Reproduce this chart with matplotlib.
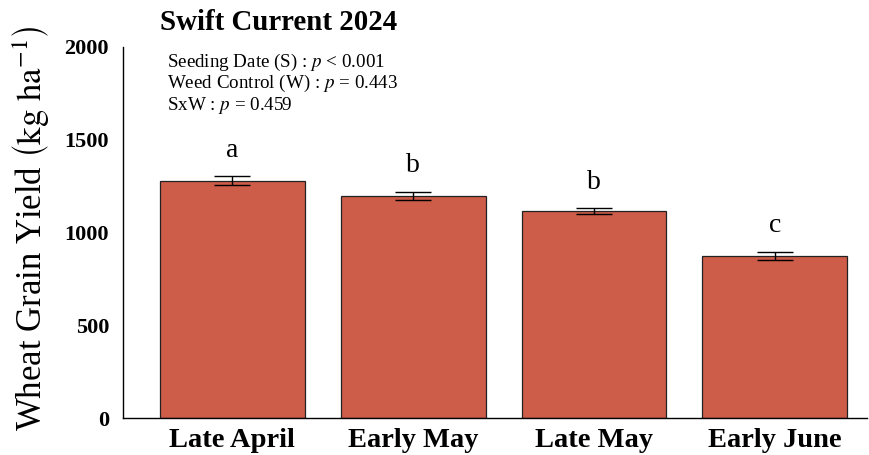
import matplotlib
matplotlib.use("Agg")
import matplotlib.pyplot as plt

# Seeding date means and standard errors (kg/ha)
dates = ["Late April", "Early May", "Late May", "Early June"]
yield_mean = [1280, 1196, 1116, 874]
yield_se = [22, 23, 16, 23]
letters = ["a", "b", "b", "c"]
stats_lines = [
    r"Seeding Date (S) : $p$ < 0.001",
    r"Weed Control (W) : $p$ = 0.443",
    r"SxW : $p$ = 0.459",
]
yticks = [0, 500, 1000, 1500, 2000]

plt.rcParams["font.family"] = ["Liberation Serif", "DejaVu Serif"]
plt.rcParams["mathtext.fontset"] = "stix"

fig = plt.figure(figsize=(8.69, 4.55), dpi=100)
ax = fig.add_axes([123 / 869, 37 / 455, 744 / 869, 371 / 455])

x = range(len(dates))
ax.bar(x, yield_mean, width=0.8, color="#CD5C48", edgecolor="#222222", linewidth=0.9)
ax.errorbar(x, yield_mean, yerr=yield_se, fmt="none", ecolor="black",
            elinewidth=1.0, capsize=13, capthick=1.0)

# significance letters above the error bars
for i, (m, s, lab) in enumerate(zip(yield_mean, yield_se, letters)):
    ax.annotate(lab, (i, m + s), xytext=(0, 14), textcoords="offset points",
                ha="center", va="baseline", fontsize=20)

ax.set_xlim(-0.605, 3.51)
ax.set_ylim(0, 2000)
ax.set_xticks(list(x))
ax.set_xticklabels(dates, fontsize=20.5, fontweight="bold")
ax.set_yticks(yticks)
ax.set_yticklabels([str(t) for t in yticks], fontsize=16, fontweight="bold")
ax.tick_params(axis="both", length=0)
ax.tick_params(axis="y", pad=10)
ax.tick_params(axis="x", pad=7)
for side in ["top", "right"]:
    ax.spines[side].set_visible(False)
for side in ["left", "bottom"]:
    ax.spines[side].set_linewidth(1.0)

fig.text(31 / 869, 1 - 228 / 455,
         r"Wheat Grain Yield $\left(\mathrm{kg\ ha^{-1}}\right)$",
         rotation=90, ha="center", va="center", fontsize=25)

fig.text(160 / 869, 1 - 30 / 455, "Swift Current 2024",
         fontsize=20.8, fontweight="bold", ha="left", va="baseline")

for k, line in enumerate(stats_lines):
    fig.text(167 / 869, 1 - (66.5 + 21.5 * k) / 455, line,
             fontsize=13.7, ha="left", va="baseline")

fig.savefig("out.png", dpi=100)
